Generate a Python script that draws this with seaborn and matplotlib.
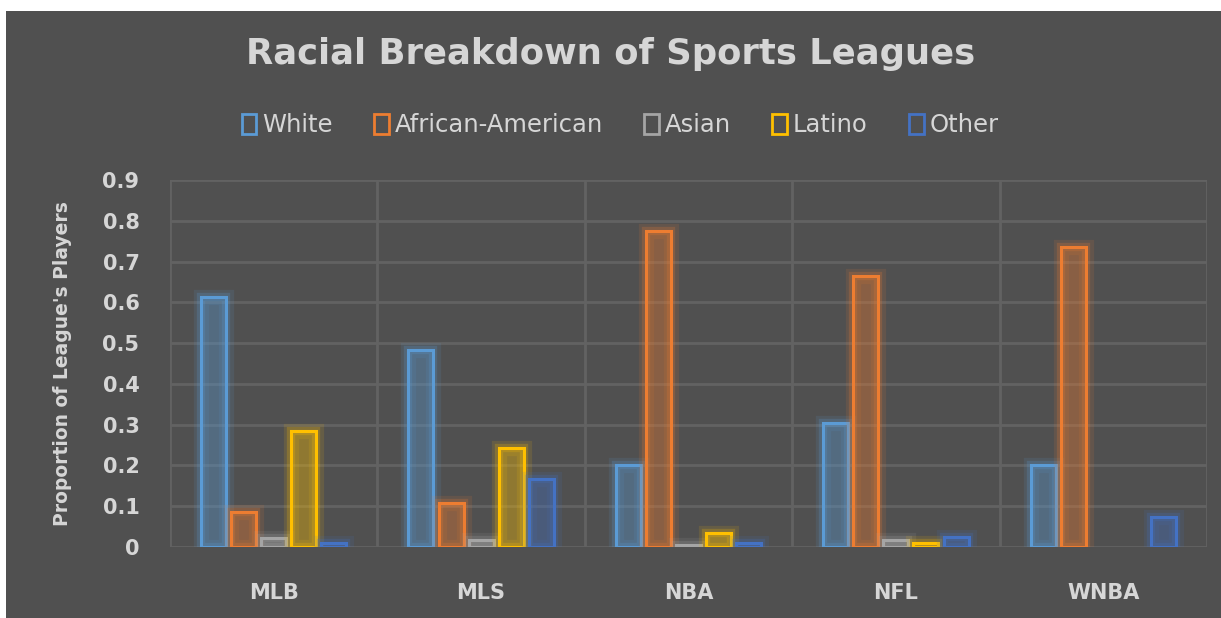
import numpy as np
import pandas as pd

import matplotlib
matplotlib.use("Agg")
import matplotlib.pyplot as plt
import matplotlib.patheffects as pe
from matplotlib.patches import Patch, Rectangle

import seaborn as sns

# data
leagues = ["MLB", "MLS", "NBA", "NFL", "WNBA"]
races = ["White", "African-American", "Asian", "Latino", "Other"]
white = [0.613, 0.482, 0.200, 0.303, 0.202]
african_american = [0.087, 0.109, 0.775, 0.664, 0.736]
asian = [0.023, 0.017, 0.006, 0.017, np.nan]
latino = [0.285, 0.244, 0.035, 0.009, np.nan]
other = [0.009, 0.166, 0.009, 0.024, 0.074]
colors = ["#5b9bd5", "#ed7d31", "#a5a5a5", "#ffc000", "#4472c4"]

BG = "#505050"
GRID = "#626262"
TEXT = "#d6d6d6"

df = pd.DataFrame({"White": white, "African-American": african_american,
                   "Asian": asian, "Latino": latino, "Other": other},
                  index=leagues)
long = df.reset_index(names="League").melt(id_vars="League", var_name="Race",
                                           value_name="Share")

sns.set_theme(style="dark")
plt.rcParams["font.family"] = ["DejaVu Sans"]

fig = plt.figure(figsize=(12.21, 6.18), dpi=100, facecolor="white")
fig.patches.append(Rectangle((6 / 1221, 0), 1, 1 - 11 / 618,
                             transform=fig.transFigure, facecolor=BG,
                             edgecolor="none", zorder=-10))
ax = fig.add_axes([170 / 1221, 1 - 547 / 618, (1207 - 170) / 1221,
                   (547 - 180) / 618])
ax.set_facecolor(BG)

sns.barplot(data=long, x="League", y="Share", hue="Race", order=leagues,
            hue_order=races, palette=colors, width=0.725, gap=0.17,
            legend=False, ax=ax, zorder=3)

# outline bars with a soft glow like the Excel style
for bars, c in zip(ax.containers, colors):
    for p in bars:
        if np.isnan(p.get_height()):
            continue
        p.set_facecolor(matplotlib.colors.to_rgba(c, 0.08))
        p.set_edgecolor(c)
        p.set_linewidth(2.2)
        p.set_path_effects([pe.Stroke(linewidth=11, foreground=c, alpha=0.12),
                            pe.Stroke(linewidth=6, foreground=c, alpha=0.22),
                            pe.Normal()])

ax.set_xlim(-0.5, len(leagues) - 0.5)
ax.set_ylim(0, 0.9)
ax.set_yticks(np.arange(0, 0.91, 0.1))
ax.set_yticklabels(["0"] + ["%.1f" % v for v in np.arange(0.1, 0.91, 0.1)])
ax.set_xticks(range(len(leagues)))
ax.set_xticks(np.arange(-0.5, len(leagues), 1), minor=True)
ax.grid(False)
ax.grid(axis="y", which="major", color=GRID, linewidth=2, zorder=0)
ax.grid(axis="x", which="minor", color=GRID, linewidth=2, zorder=0)
for s in ax.spines.values():
    s.set_visible(False)
ax.tick_params(axis="both", which="both", length=0, colors=TEXT,
               labelsize=15)
ax.tick_params(axis="y", pad=22)
ax.tick_params(axis="x", pad=26)
for lbl in ax.get_xticklabels() + ax.get_yticklabels():
    lbl.set_fontweight("bold")

ax.set_xlabel("")
ax.set_ylabel("Proportion of League's Players", color=TEXT, fontsize=13.5,
              fontweight="bold", labelpad=22)

fig.text(0.5, 1 - 54 / 618, "Racial Breakdown of Sports Leagues",
         ha="center", va="center", color=TEXT, fontsize=25.5,
         fontweight="bold")

handles = [Patch(facecolor="none", edgecolor=c, linewidth=2) for c in colors]
fig.legend(handles, races, loc="center", bbox_to_anchor=(0.508, 1 - 125 / 618),
           ncol=5, frameon=False, fontsize=17.5, labelcolor=TEXT,
           handlelength=0.6, handleheight=0.9, handletextpad=0.25,
           columnspacing=1.7)

fig.savefig("out.png", dpi=100, facecolor=fig.get_facecolor())
